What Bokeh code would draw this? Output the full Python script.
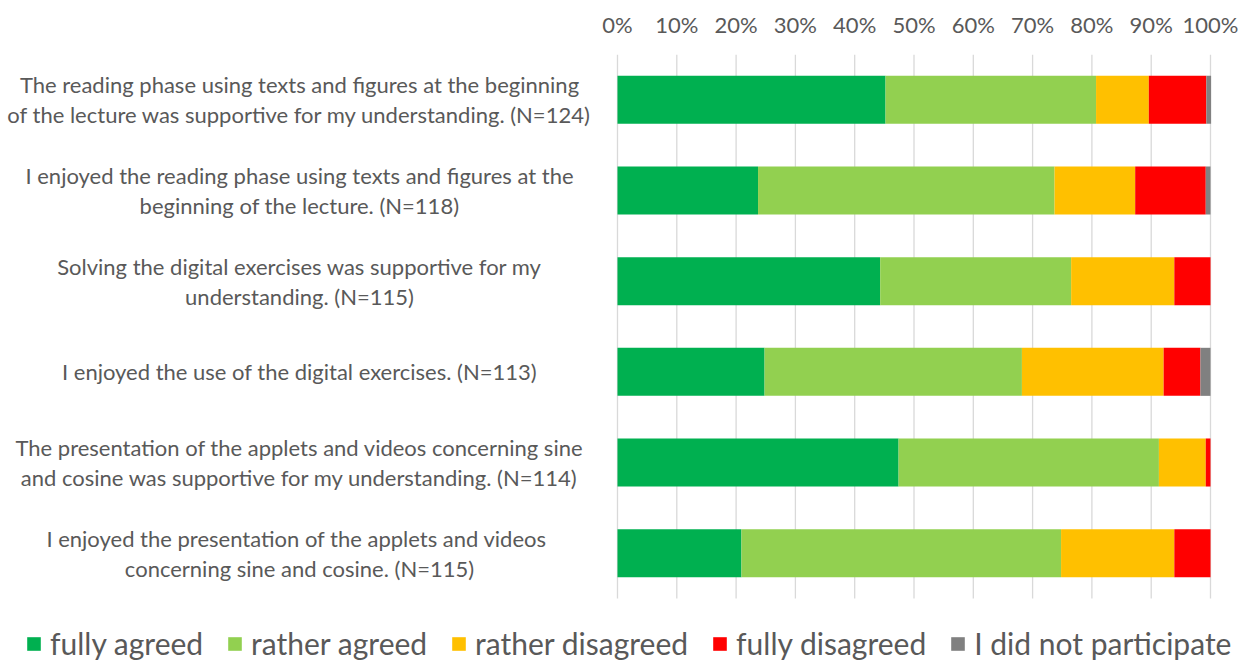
from bokeh.plotting import figure
from bokeh.models import (ColumnDataSource, Range1d, FixedTicker,
                          PrintfTickFormatter, Legend, LegendItem)
from bokeh.core.properties import value
from bokeh.embed import file_html
from bokeh.resources import INLINE

questions = [
    "The reading phase using texts and figures at the beginning\nof the lecture was supportive for my understanding. (N=124)",
    "I enjoyed the reading phase using texts and figures at the\nbeginning of the lecture. (N=118)",
    "Solving the digital exercises was supportive for my\nunderstanding. (N=115)",
    "I enjoyed the use of the digital exercises. (N=113)",
    "The presentation of the applets and videos concerning sine\nand cosine was supportive for my understanding. (N=114)",
    "I enjoyed the presentation  of the applets and videos\nconcerning sine and cosine. (N=115)",
]

series = ["fully agreed", "rather agreed", "rather disagreed", "fully disagreed", "I did not participate"]
fully_agreed = [45.2, 23.7, 44.3, 24.8, 47.4, 20.9]
rather_agreed = [35.5, 50.0, 32.2, 43.4, 43.9, 53.9]
rather_disagreed = [8.9, 13.6, 17.4, 23.9, 7.9, 19.1]
fully_disagreed = [9.7, 11.9, 6.1, 6.2, 0.8, 6.1]
not_participated = [0.8, 0.8, 0.0, 1.7, 0.0, 0.0]
colors = ["#00B050", "#92D050", "#FFC000", "#FF0000", "#808080"]
ticks = [0, 10, 20, 30, 40, 50, 60, 70, 80, 90, 100]

n = len(questions)
row_pos = [n - 0.5 - i for i in range(n)]   # first question on top

cols = ["s0", "s1", "s2", "s3", "s4"]
source = ColumnDataSource(dict(
    y=row_pos, q=questions,
    s0=fully_agreed, s1=rather_agreed, s2=rather_disagreed,
    s3=fully_disagreed, s4=not_participated,
))

TXT = "#595959"
FONT = "Lato"

# plot frame spans the whole canvas; the question texts sit left of 0 %
W, H = 1246, 661
TOP = 54
X0_PX, X100_PX = 617, 1210       # pixels where 0 % and 100 % sit
px_per_unit = (X100_PX - X0_PX) / 100.0
x_start = -X0_PX / px_per_unit
x_end = 100 + (W - X100_PX) / px_per_unit
row_px = (598 - TOP) / n
y_start = n - (H - TOP) / row_px

p = figure(width=W, height=H, output_backend="svg", toolbar_location=None,
           x_range=Range1d(x_start, x_end), y_range=Range1d(y_start, n),
           x_axis_location="above", y_axis_location=None,
           min_border_left=0, min_border_right=0, min_border_top=TOP,
           min_border_bottom=0)
p.outline_line_color = None
p.xgrid.grid_line_color = None
p.ygrid.grid_line_color = None

# vertical gridlines only over the bar area
p.segment(x0=ticks, x1=ticks, y0=[0] * len(ticks), y1=[n] * len(ticks),
          line_color="#D9D9D9", line_width=1.3)

rs = p.hbar_stack(cols, y="y", height=0.53, color=colors, line_color=None, source=source)

ax = p.xaxis[0]
ax.ticker = FixedTicker(ticks=ticks)
ax.formatter = PrintfTickFormatter(format="%d%%")
ax.axis_line_color = None
ax.major_tick_line_color = None
ax.minor_tick_line_color = None
ax.major_tick_out = 0
ax.major_tick_in = 0
ax.major_label_standoff = 17
ax.major_label_text_font = FONT
ax.major_label_text_font_size = "22px"
ax.major_label_text_color = TXT

label_x = x_start + 299 / px_per_unit
p.text(x=label_x, y="y", text="q", source=source, text_align="center",
       text_baseline="middle", text_font=value(FONT), text_font_size="22px",
       text_color=TXT, text_line_height=1.1)

legend = Legend(items=[LegendItem(label=s, renderers=[r]) for s, r in zip(series, rs)],
                orientation="horizontal", location=(25, 0),
                glyph_width=17, glyph_height=17, label_standoff=8, spacing=23,
                label_text_font=FONT, label_text_font_size="30px",
                label_text_color=TXT, border_line_color=None,
                background_fill_alpha=0, padding=0, margin=0)
p.add_layout(legend, "center")

open("out.html", "w").write(file_html(p, INLINE))
